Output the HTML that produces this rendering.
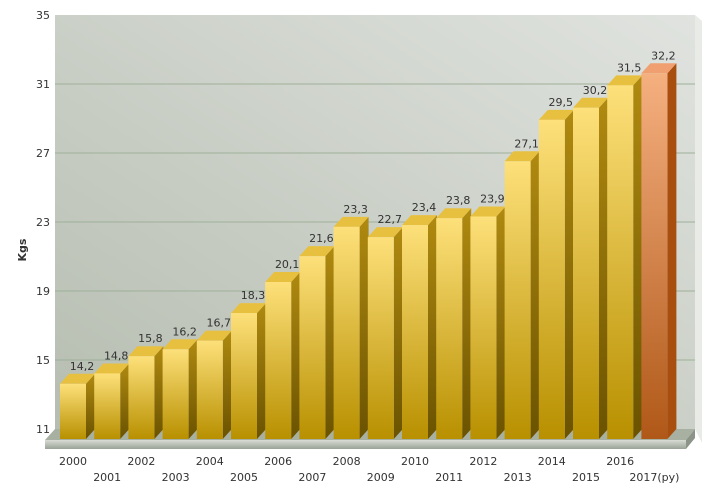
<!DOCTYPE html>
<html><head><meta charset="utf-8"><style>
body{margin:0;background:#fff;}
svg{display:block;font-family:"DejaVu Sans","Liberation Sans",sans-serif;}
</style></head><body>
<svg id="chart" width="714" height="496" viewBox="0 0 714 496">
<defs>
<linearGradient id="bg" x1="0" y1="1" x2="1" y2="0"><stop offset="0" stop-color="#b6bdb0"/><stop offset="1" stop-color="#e0e3df"/></linearGradient>
<linearGradient id="gf" x1="0" y1="0" x2="0" y2="1"><stop offset="0" stop-color="#fde07a"/><stop offset="1" stop-color="#b89000"/></linearGradient>
<linearGradient id="gs" x1="0" y1="0" x2="0" y2="1"><stop offset="0" stop-color="#b08a10"/><stop offset="1" stop-color="#6a5200"/></linearGradient>
<linearGradient id="of" x1="0" y1="0" x2="0" y2="1"><stop offset="0" stop-color="#f5b080"/><stop offset="1" stop-color="#b05818"/></linearGradient>
<linearGradient id="fl" x1="0" y1="0" x2="0" y2="1"><stop offset="0" stop-color="#d8dcd4"/><stop offset="1" stop-color="#9aa296"/></linearGradient>
</defs>
<g id="plot"></g>
</svg>
<script>
const categories=["2000","2001","2002","2003","2004","2005","2006","2007","2008","2009","2010","2011","2012","2013","2014","2015","2016","2017(py)"];
const values=[14.2,14.8,15.8,16.2,16.7,18.3,20.1,21.6,23.3,22.7,23.4,23.8,23.9,27.1,29.5,30.2,31.5,32.2];
const valueLabels=["14,2","14,8","15,8","16,2","16,7","18,3","20,1","21,6","23,3","22,7","23,4","23,8","23,9","27,1","29,5","30,2","31,5","32,2"];
const yTicks=[11,15,19,23,27,31,35];
const NS="http://www.w3.org/2000/svg";
const g=document.getElementById('plot');
const yMin=11,yMax=35,plotTop=15,plotBot=429;
const y=v=>plotBot-(v-yMin)/(yMax-yMin)*(plotBot-plotTop);
const x0=60,pitch=34.2,bw=26,dx=9,dy=10;
function mk(t,a,txt){const e=document.createElementNS(NS,t);for(const k in a)e.setAttribute(k,a[k]);if(txt!=null)e.textContent=txt;g.appendChild(e);return e;}
let e;
e=mk('rect',{x:55,y:plotTop,width:640,height:plotBot-plotTop,fill:'url(#bg)'});


e=mk('polygon',{points:`695,${plotTop} 702,${plotTop+6} 702,${plotBot+14} 695,${plotBot}`,fill:'#e8ebe6'});


yTicks.forEach(t=>{
  if(t>yMin&&t<yMax){e=mk('line',{x1:55,x2:695,y1:y(t),y2:y(t),stroke:'#9fb09a','stroke-width':1});
  
  }
  e=mk('text',{x:50,y:y(t)+4,'text-anchor':'end','font-size':11,fill:'#333'},String(t));
  
  
});
e=mk('text',{x:0,y:0,'font-size':11,'font-weight':'bold',fill:'#333','text-anchor':'middle',transform:'translate(26,250) rotate(-90)'},'Kgs');


e=mk('polygon',{points:`55,${plotBot} 695,${plotBot} 686,${plotBot+11} 45,${plotBot+11}`,fill:'#a8b0a2'});


e=mk('rect',{x:45,y:plotBot+11,width:641,height:9,fill:'url(#fl)'});


e=mk('polygon',{points:`686,${plotBot+11} 695,${plotBot} 695,${plotBot+9} 686,${plotBot+20}`,fill:'#8c9488'});


values.forEach((v,i)=>{
  const last=i===values.length-1;
  const fx=x0+i*pitch, ft=y(v)+dy, fb=plotBot+10;
  e=mk('polygon',{points:`${fx+bw},${ft} ${fx+bw+dx},${ft-dy} ${fx+bw+dx},${fb-dy} ${fx+bw},${fb}`,fill:last?'#a84f10':'url(#gs)'});
  
  
  e=mk('polygon',{points:`${fx},${ft} ${fx+dx},${ft-dy} ${fx+bw+dx},${ft-dy} ${fx+bw},${ft}`,fill:last?'#f0a070':'#e8c040'});
  
  
  e=mk('rect',{x:fx,y:ft,width:bw,height:fb-ft,fill:last?'url(#of)':'url(#gf)'});
  
  
  e=mk('text',{x:fx+bw/2+dx,y:ft-dy-4,'text-anchor':'middle','font-size':11,fill:'#333'},valueLabels[i]);
  
  
  e=mk('text',{x:fx+bw/2,y:i%2?481:465,'text-anchor':'middle','font-size':11,fill:'#333'},categories[i]);
  
  
});
</script>
</body></html>
